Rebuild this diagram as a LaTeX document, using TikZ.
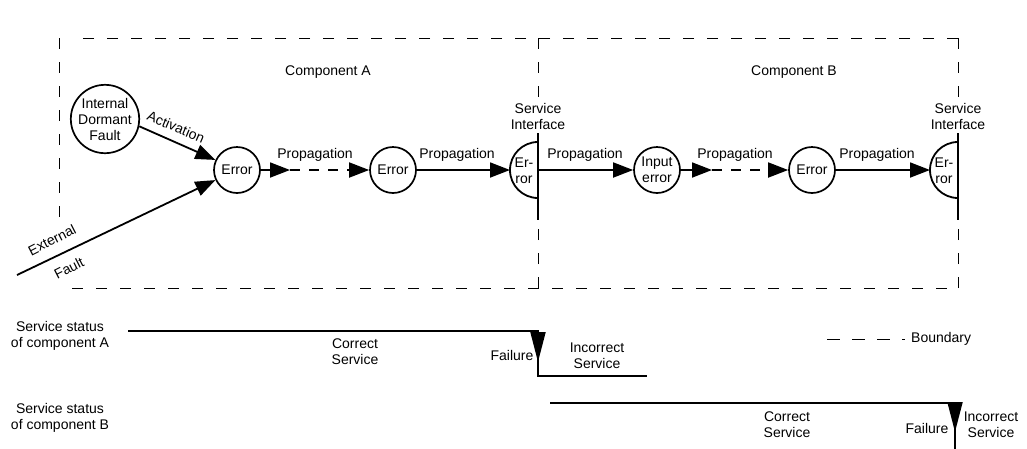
\documentclass[tikz,border=0pt]{standalone}
\usepackage{fontspec}
\setmainfont{Liberation Sans}
\usetikzlibrary{arrows.meta}
\begin{document}
\begin{tikzpicture}[x=1pt,y=-1pt,
  font=\fontsize{14}{16}\selectfont,
  bnd/.style={line width=1pt, dash pattern=on 11pt off 13pt},
  solidln/.style={line width=1.8pt},
  circ/.style={circle, draw, line width=1.7pt, inner sep=0pt, minimum size=46pt, align=center},
  arr/.style={line width=1.8pt, -{Triangle[length=20pt,width=15pt]}},
  dasharr/.style={arr, dash pattern=on 10pt off 9pt},
  failarr/.style={line width=1.8pt, -{Triangle[length=30pt,width=15pt]}},
  lbl/.style={align=center, inner sep=0pt}]
\useasboundingbox (0,0) rectangle (1027,448);

% boundary box
\draw[bnd] (958,38) -- (72,38);
\draw[bnd] (59,38) -- (59,228);
\draw[bnd] (72,288) -- (958,288);
\draw[bnd] (538,38) -- (538,100);
\draw[bnd] (538,288) -- (538,220);
\draw[bnd] (958,38) -- (958,100);
\draw[bnd] (958,288) -- (958,220);

% service interfaces
\draw[solidln] (538,133) -- (538,220);
\draw[solidln] (958,133) -- (958,220);
\draw[solidln] (538,142) arc[start angle=90, end angle=270, radius=28pt];
\draw[solidln] (958,142) arc[start angle=90, end angle=270, radius=28pt];
\node[lbl] (siA) at (538,116) {Service\\Interface};
\node[lbl] (siB) at (958,116) {Service\\Interface};
\node[lbl] (erA) at (524,171) {Er-\\ror};
\node[lbl] (erB) at (944,171) {Er-\\ror};
\coordinate (hA) at (510,170);
\coordinate (hB) at (930,170);
\coordinate (oA) at (538,170);

\node[lbl] (compA) at (328,72) {Component A};
\node[lbl] (compB) at (794,72) {Component B};

% nodes
\node[circ, minimum size=64pt] (ifault) at (105,119) {Internal\\Dormant\\Fault};
\node[circ] (e1) at (237,170) {Error};
\node[circ] (e2) at (393,170) {Error};
\node[circ] (ie) at (657,170) {Input\\error};
\node[circ] (eb) at (812,170) {Error};
\coordinate (ext) at (17,275);
\coordinate (m1) at (290,170);
\coordinate (m2) at (712,170);

% connectors
\draw[arr] (ifault.-12) -- (e1.155);
\draw[arr] (ext) -- (e1.205);
\draw[arr] (e1) -- (m1);
\draw[dasharr] (m1) -- (e2);
\draw[arr] (e2) -- (hA);
\draw[arr] (oA) -- (ie);
\draw[arr] (ie) -- (m2);
\draw[dasharr] (m2) -- (eb);
\draw[arr] (eb) -- (hB);

% labels
\node[lbl, rotate=-23] (lact) at (176,127) {Activation};
\node[lbl, rotate=27] (lext) at (52,240) {External};
\node[lbl, rotate=27] (lfault) at (69,268) {Fault};
\node[lbl] (p1) at (315,155) {Propagation};
\node[lbl] (p2) at (457,155) {Propagation};
\node[lbl] (p3) at (585,155) {Propagation};
\node[lbl] (p4) at (735,155) {Propagation};
\node[lbl] (p5) at (877,155) {Propagation};

% service status A
\node[lbl] (ssA) at (60,336) {Service status\\of component A};
\coordinate (sa0) at (128,331);
\coordinate (sa1) at (538,331);
\coordinate (sa2) at (538,376);
\coordinate (sa3) at (647,376);
\coordinate (fa) at (538,362);
\draw[solidln] (sa0) -- (sa1) -- (sa2) -- (sa3);
\draw[failarr] (sa1) -- (fa);
\node[lbl] (csA) at (355,352) {Correct\\Service};
\node[lbl] (fA) at (512,355) {Failure};
\node[lbl] (isA) at (597,356) {Incorrect\\Service};

% service status B
\node[lbl] (ssB) at (60,418) {Service status\\of component B};
\coordinate (sb0) at (550,403);
\coordinate (sb1) at (955,403);
\coordinate (sb2) at (955,449);
\coordinate (fb) at (955,432);
\draw[solidln] (sb0) -- (sb1) -- (sb2);
\draw[failarr] (sb1) -- (fb);
\node[lbl] (csB) at (787,425) {Correct\\Service};
\node[lbl] (fB) at (927,428) {Failure};
\node[lbl] (isB) at (991,425) {Incorrect\\Service};

% legend
\coordinate (lg0) at (827,339);
\coordinate (lg1) at (905,339);
\draw[bnd, dash pattern=on 13pt off 12pt] (lg0) -- (lg1);
\node[lbl, anchor=west] (lgt) at (911,339) {Boundary};
\end{tikzpicture}
\end{document}
